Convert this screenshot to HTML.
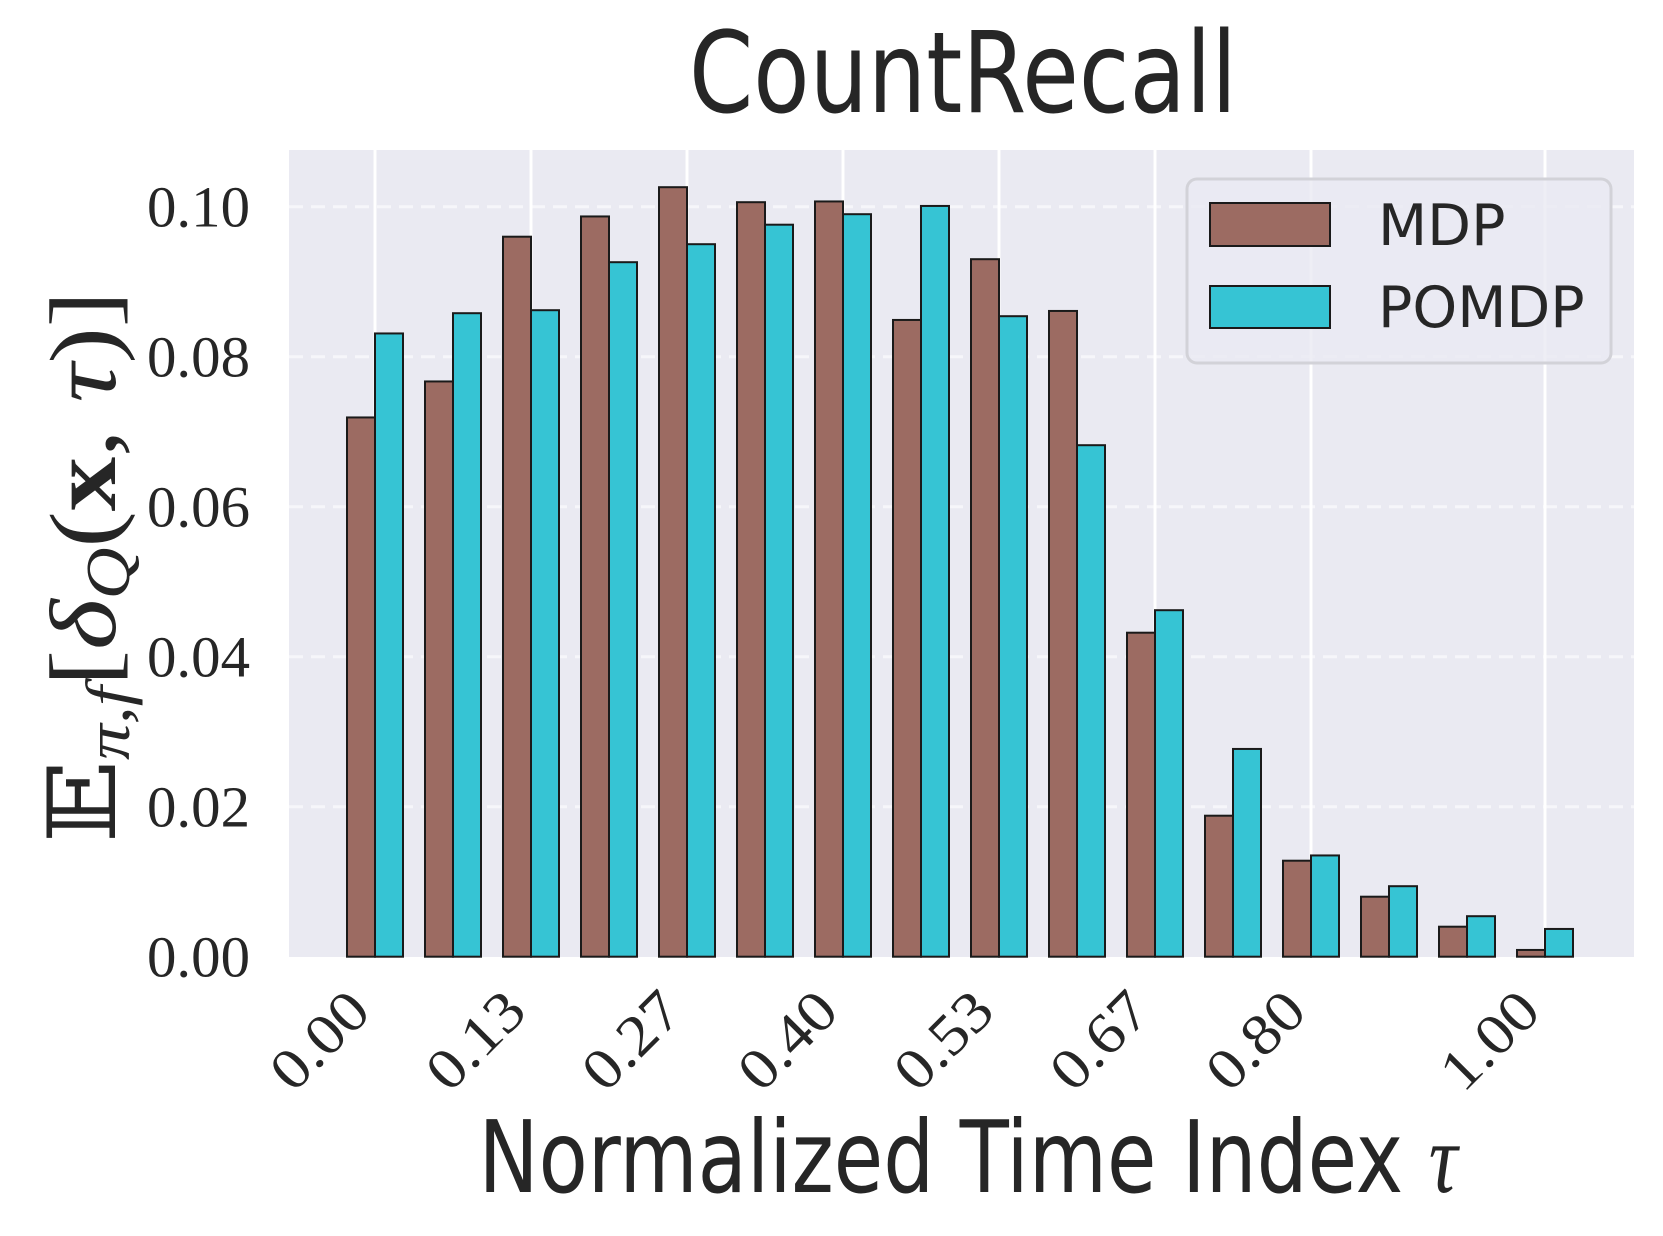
<!DOCTYPE html>
<html><head><meta charset="utf-8"><style>
html,body{margin:0;padding:0;background:#fff;}
svg{display:block;}
</style></head><body>
<svg id="chart" width="1663" height="1236" viewBox="0 0 1663 1236" xmlns="http://www.w3.org/2000/svg">
<rect x="0" y="0" width="1663" height="1236" fill="#fff"/>
<text x="963" y="112" font-family="'DejaVu Sans','Liberation Sans',sans-serif" font-size="112" fill="#262626" text-anchor="middle" textLength="548" lengthAdjust="spacingAndGlyphs">CountRecall</text>
<rect id="plotbg" x="289" y="150" width="1345" height="807" fill="#eaeaf2"/>
<g id="grid"></g>
<g id="bars"></g>
<g id="yticks"></g>
<g id="xticks"></g>
<text transform="translate(115,567) rotate(-90)" font-family="'Liberation Serif','DejaVu Serif',serif" font-size="94" fill="#262626" text-anchor="middle" textLength="552" lengthAdjust="spacingAndGlyphs">𝔼<tspan font-size="62" font-style="italic" dy="14">π,f</tspan><tspan dy="-14">[</tspan><tspan font-style="italic">δ</tspan><tspan font-size="62" font-style="italic" dy="14">Q</tspan><tspan dy="-14">(</tspan><tspan font-weight="bold">x</tspan>, <tspan font-style="italic">τ</tspan>)]</text>
<text x="968" y="1192" font-family="'DejaVu Sans','Liberation Sans',sans-serif" font-size="100" fill="#262626" text-anchor="middle" textLength="979" lengthAdjust="spacingAndGlyphs">Normalized Time Index <tspan font-family="'Liberation Serif',serif" font-style="italic">τ</tspan></text>
<g>
<rect x="1187" y="179" width="424" height="184" rx="10" fill="#eaeaf2" fill-opacity="0.8" stroke="#d2d2d8" stroke-width="3"/>
<rect x="1210" y="203" width="120" height="43" fill="#9c6b62" stroke="#1a1a1a" stroke-width="2"/>
<text x="1378" y="245" font-family="'DejaVu Sans','Liberation Sans',sans-serif" font-size="57" fill="#262626">MDP</text>
<rect x="1210" y="286" width="120" height="42" fill="#36c4d4" stroke="#1a1a1a" stroke-width="2"/>
<text x="1378" y="327" font-family="'DejaVu Sans','Liberation Sans',sans-serif" font-size="57" fill="#262626">POMDP</text>
</g>
</svg>
<script>
const categories = [0,1,2,3,4,5,6,7,8,9,10,11,12,13,14,15];
const mdpValues = [0.0719,0.0767,0.0960,0.0987,0.1026,0.1006,0.1007,0.0849,0.0930,0.0861,0.0432,0.0188,0.0128,0.0080,0.0040,0.0009];
const pomdpValues = [0.0831,0.0858,0.0862,0.0926,0.0950,0.0976,0.0990,0.1001,0.0854,0.0682,0.0462,0.0277,0.0135,0.0094,0.0054,0.0037];
const yTicks = [0,0.02,0.04,0.06,0.08,0.10];
const yTickLabels = ["0.00","0.02","0.04","0.06","0.08","0.10"];
const xTickIdx = [0,2,4,6,8,10,12,15];
const xTickLabels = ["0.00","0.13","0.27","0.40","0.53","0.67","0.80","1.00"];

const NS = "http://www.w3.org/2000/svg";
const x0 = 375, pitch = 78, barW = 28;
const yZero = 956.7, yScale = 7500;
function xScale(i){ return x0 + i*pitch; }
function yPos(v){ return yZero - v*yScale; }
function mk(tag, attrs, parent){
  const e = document.createElementNS(NS, tag);
  for (const k in attrs) e.setAttribute(k, attrs[k]);
  parent.appendChild(e); return e;
}
const grid = document.getElementById('grid');
yTicks.forEach((t,i)=>{
  if (i===0) return;
  const l = mk('line',{x1:289,x2:1634,y1:yPos(t),y2:yPos(t),stroke:'#f6f6fa','stroke-width':3,'stroke-dasharray':'14,8'},grid);
  
  
});
xTickIdx.forEach(i=>{
  const l = mk('line',{x1:xScale(i),x2:xScale(i),y1:150,y2:957,stroke:'#ffffff','stroke-width':3},grid);
  
  
});
const bars = document.getElementById('bars');
categories.forEach((c,i)=>{
  const cx = xScale(c);
  const a = mk('rect',{x:cx-barW,y:yPos(mdpValues[i]),width:barW,height:yZero-yPos(mdpValues[i]),fill:'#9c6b62',stroke:'#1a1a1a','stroke-width':2},bars);
  
  
  const b = mk('rect',{x:cx,y:yPos(pomdpValues[i]),width:barW,height:yZero-yPos(pomdpValues[i]),fill:'#36c4d4',stroke:'#1a1a1a','stroke-width':2},bars);
  
  
});
const yt = document.getElementById('yticks');
yTicks.forEach((t,i)=>{
  const e = mk('text',{x:250,y:yPos(t)+20,'font-family':"'Liberation Serif','DejaVu Serif',serif",'font-size':58,fill:'#262626','text-anchor':'end',textLength:103,lengthAdjust:'spacingAndGlyphs'},yt);
  e.textContent = yTickLabels[i];
  
  
});
const xt = document.getElementById('xticks');
xTickIdx.forEach((idx,i)=>{
  const px = xScale(idx)-2, py = 1014;
  const e = mk('text',{x:px,y:py,transform:`rotate(-45 ${px} ${py})`,'font-family':"'Liberation Serif','DejaVu Serif',serif",'font-size':58,fill:'#262626','text-anchor':'end',textLength:113,lengthAdjust:'spacingAndGlyphs'},xt);
  e.textContent = xTickLabels[i];
  
  
});
</script>
</body></html>
